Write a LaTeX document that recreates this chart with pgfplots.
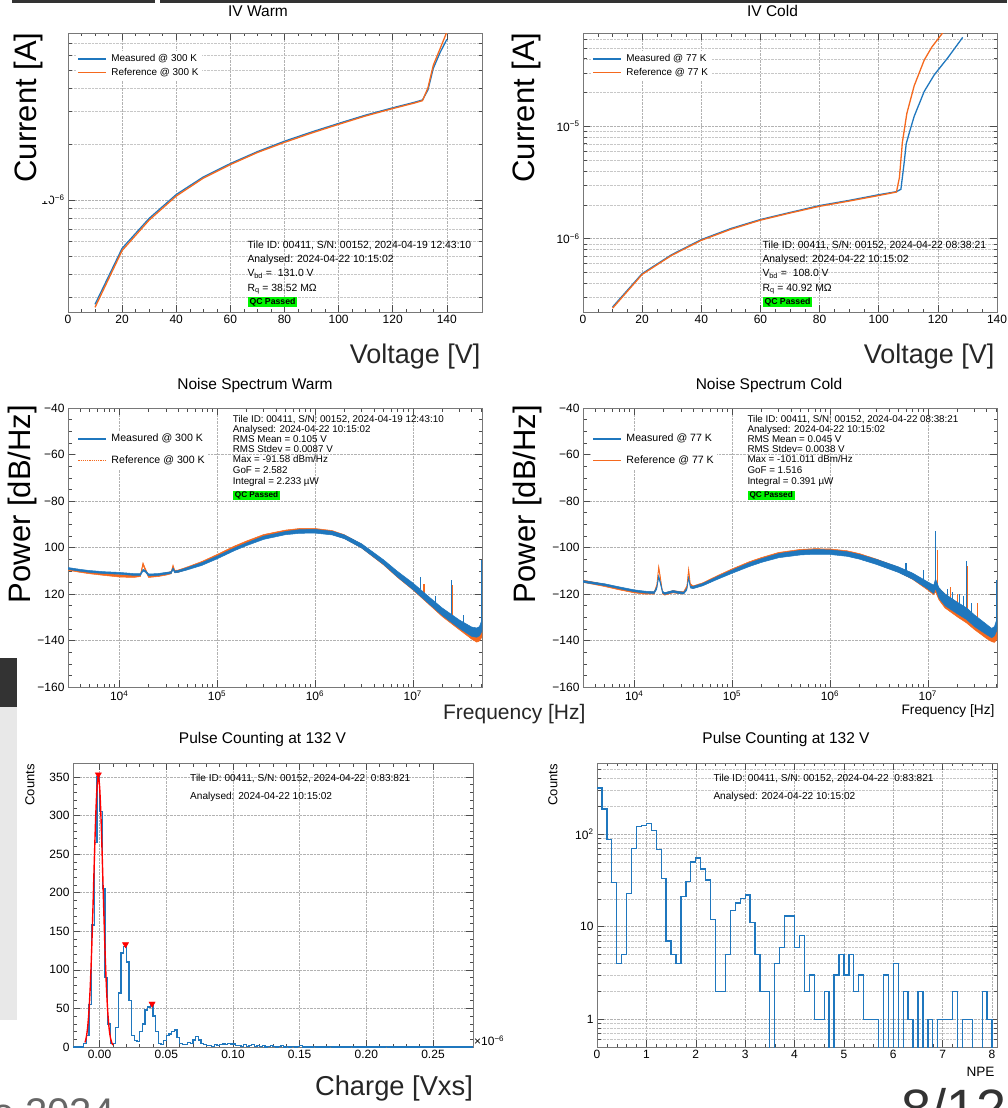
\documentclass[border=0pt]{standalone}
\usepackage{fontspec}
\setmainfont{Liberation Sans}
\usepackage{pgfplots}
\pgfplotsset{compat=1.18}
\definecolor{cblue}{RGB}{31,119,190}
\definecolor{corange}{RGB}{245,105,30}
\definecolor{qcgreen}{RGB}{0,245,0}
\definecolor{framegray}{RGB}{120,120,120}
\newcommand{\fs}[1]{\fontsize{#1}{#1}\selectfont}
\pgfplotsset{
 rootax/.style={
  scale only axis, anchor=south west,
  axis line style={draw=framegray, line width=0.9pt},
  tick style={black!70, line width=0.5pt},
  tick align=inside,
  major tick length=7pt, minor tick length=3.5pt,
  tick label style={font=\fs{12}, text=black},
  major grid style={densely dotted, black!30, line width=0.5pt},
  minor grid style={densely dotted, black!22, line width=0.45pt},
  /pgf/number format/assume math mode=true,
  legend cell align=left,
  legend image code/.code={\draw[##1] (0pt,0pt) -- (28pt,0pt);},
 },
 ivleg/.style={legend style={at={(axis description cs:0.018,0.936)}, anchor=north west,
   draw=none, fill=white, inner xsep=2pt, inner ysep=2pt, font=\fs{9.9},
   row sep=1.7pt, nodes={inner sep=1.5pt}, /tikz/every odd column/.append style={column sep=3pt}}},
 nsleg/.style={legend style={at={(axis description cs:0.018,0.919)}, anchor=north west,
   draw=none, fill=white, inner xsep=2pt, inner ysep=2pt, font=\fs{10.6},
   row sep=9.6pt, nodes={inner sep=1.5pt}, /tikz/every odd column/.append style={column sep=3pt}}},
}
\begin{document}
\begin{tikzpicture}
\useasboundingbox (0,0) rectangle (1007pt,-1108pt);
% slide decorations
\fill[black!80] (12pt,0) rectangle (155pt,-3pt);
\fill[black!80] (160pt,0) rectangle (1007pt,-3pt);
\fill[black!80] (0,-658pt) rectangle (17pt,-707pt);
\fill[black!9] (0,-707pt) rectangle (17pt,-1020pt);

% ---------------- IV Warm
\begin{axis}[rootax, ivleg, at={(68pt,-312pt)}, width=414pt, height=279pt,
  xmin=0, xmax=153, ymode=log, ymin=2.5e-7, ymax=7.9e-6,
  xtick={0,20,40,60,80,100,120,140}, minor x tick num=3,
  ytick={1e-6}, yticklabels={10\textsuperscript{−6}},
  minor ytick={3e-7,4e-7,5e-7,6e-7,7e-7,8e-7,9e-7,2e-6,3e-6,4e-6,5e-6,6e-6,7e-6},
  xmajorgrids, ymajorgrids, yminorgrids]
\addplot[cblue, line width=1.3pt] coordinates {(10,2.75e-7) (20,5.5e-7) (30,7.97e-7) (40,1.07e-6) (50,1.33e-6) (60,1.57e-6) (70,1.82e-6) (80,2.07e-6) (90,2.32e-6) (100,2.58e-6) (110,2.86e-6) (120,3.13e-6) (128,3.35e-6) (131,3.45e-6) (133,3.9e-6) (135,5.1e-6) (137.5,6.2e-6) (140,7.3e-6)};
\addplot[corange, line width=1.3pt] coordinates {(10,2.65e-7) (20,5.35e-7) (30,7.8e-7) (40,1.05e-6) (50,1.31e-6) (60,1.55e-6) (70,1.8e-6) (80,2.04e-6) (90,2.29e-6) (100,2.55e-6) (110,2.83e-6) (120,3.1e-6) (128,3.32e-6) (131,3.42e-6) (133,4.0e-6) (135,5.3e-6) (137.5,6.5e-6) (140,8.0e-6)};
\legend{Measured @ 300 K, Reference @ 300 K}
\end{axis}

% ---------------- IV Cold
\begin{axis}[rootax, ivleg, at={(583pt,-312pt)}, width=414pt, height=279pt,
  xmin=0, xmax=140, ymode=log, ymin=2.22e-7, ymax=6.78e-5,
  xtick={0,20,40,60,80,100,120,140}, minor x tick num=3,
  ytick={1e-6,1e-5}, yticklabels={10\textsuperscript{−6},10\textsuperscript{−5}},
  minor ytick={3e-7,4e-7,5e-7,6e-7,7e-7,8e-7,9e-7,2e-6,3e-6,4e-6,5e-6,6e-6,7e-6,8e-6,9e-6,2e-5,3e-5,4e-5,5e-5,6e-5},
  xmajorgrids, ymajorgrids, yminorgrids]
\addplot[cblue, line width=1.3pt] coordinates {(10,2.46e-7) (20,4.88e-7) (30,7.2e-7) (40,9.8e-7) (50,1.23e-6) (60,1.48e-6) (70,1.71e-6) (80,1.97e-6) (90,2.19e-6) (100,2.46e-6) (106,2.62e-6) (107.5,2.75e-6) (108.5,4.5e-6) (109.3,7e-6) (110.3,8.7e-6) (112,1.23e-5) (115.4,2.05e-5) (118.8,2.88e-5) (123.3,4.06e-5) (128.4,6.2e-5)};
\addplot[corange, line width=1.3pt] coordinates {(10,2.4e-7) (20,4.8e-7) (30,7.1e-7) (40,9.65e-7) (50,1.21e-6) (60,1.46e-6) (70,1.69e-6) (80,1.94e-6) (90,2.16e-6) (100,2.42e-6) (106,2.6e-6) (107,3.5e-6) (108,7.2e-6) (109.5,1.3e-5) (112,2.3e-5) (115.4,3.9e-5) (118,5.1e-5) (122,7.0e-5)};
\legend{Measured @ 77 K, Reference @ 77 K}
\end{axis}

% ---------------- Noise Warm
\begin{axis}[rootax, nsleg, at={(68pt,-687pt)}, width=414pt, height=279pt,
  xmode=log, xmin=3e3, xmax=5.1e7, ymin=-160, ymax=-40,
  xtick={1e4,1e5,1e6,1e7}, xticklabels={10\textsuperscript{4},10\textsuperscript{5},10\textsuperscript{6},10\textsuperscript{7}},
  minor xtick={4e3,5e3,6e3,7e3,8e3,9e3,2e4,3e4,4e4,5e4,6e4,7e4,8e4,9e4,2e5,3e5,4e5,5e5,6e5,7e5,8e5,9e5,2e6,3e6,4e6,5e6,6e6,7e6,8e6,9e6,2e7,3e7,4e7,5e7},
  ytick={-160,-140,-120,-100,-80,-60,-40}, yticklabels={−160,−140,120,100,−80,−60,−40},
  minor y tick num=3, xmajorgrids, ymajorgrids, unbounded coords=jump]
\addlegendimage{cblue, line width=1.3pt}
\addlegendimage{corange, line width=1.2pt, densely dotted}
\addplot[draw=corange, fill=corange, line width=0.5pt, forget plot] coordinates {
(3e3,-108.8) (4e3,-109.7) (5e3,-110.3) (7e3,-111.0) (1e4,-111.7) (1.4e4,-111.9) (1.65e4,-111.5) (1.75e4,-106.5) (1.85e4,-109.0) (2e4,-111.9) (2.5e4,-111.5) (3e4,-110.9) (3.4e4,-110.3) (3.55e4,-107.5) (3.7e4,-109.8) (4e4,-109.7) (5e4,-108.3) (7e4,-106.0) (1e5,-103.0) (1.5e5,-99.4) (2e5,-97.2) (3e5,-94.4) (5e5,-92.5) (7e5,-91.8) (1e6,-91.8) (1.5e6,-92.7) (2e6,-94.5) (3e6,-98.6) (5e6,-105.8) (7e6,-111.1) (1e7,-116.2) (1.5e7,-122.7) (2e7,-127.3) (3e7,-133.0) (4e7,-137.0) (4.5e7,-138.3) (4.8e7,-137.8) (5.1e7,-135.5)
(5.1e7,-138.5) (4.8e7,-140.2) (4.5e7,-140.7) (4e7,-139.4) (3e7,-135.4) (2e7,-129.7) (1.5e7,-124.9) (1e7,-118.2) (7e6,-112.9) (5e6,-107.4) (3e6,-100.2) (2e6,-96.1) (1.5e6,-94.3) (1e6,-93.4) (7e5,-93.4) (5e5,-94.1) (3e5,-96.0) (2e5,-98.8) (1.5e5,-101.0) (1e5,-104.4) (7e4,-107.2) (5e4,-109.3) (4e4,-110.7) (3.7e4,-110.8) (3.55e4,-108.5) (3.4e4,-111.3) (3e4,-111.9) (2.5e4,-112.5) (2e4,-112.9) (1.85e4,-110.0) (1.75e4,-107.5) (1.65e4,-112.5) (1.4e4,-112.9) (1e4,-112.7) (7e3,-112.0) (5e3,-111.3) (4e3,-110.7) (3e3,-109.8)};
\addplot[corange, line width=1.2pt, forget plot] coordinates {(1.3e7,-120) (1.3e7,-115.5) (1.3e7,nan) (2.55e7,-131) (2.55e7,-116)};
\addplot[draw=cblue, fill=cblue, line width=0.5pt, forget plot] coordinates {
(3e3,-108.6) (4e3,-109.4) (5e3,-109.9) (7e3,-110.4) (1e4,-110.7) (1.4e4,-111.2) (1.65e4,-111.2) (1.75e4,-109.4) (1.85e4,-109.8) (2e4,-111.4) (2.5e4,-111.2) (3e4,-110.7) (3.4e4,-110.4) (3.55e4,-108.8) (3.7e4,-110.1) (4e4,-109.9) (5e4,-108.6) (7e4,-106.5) (1e5,-103.7) (1.5e5,-100.2) (2e5,-98.0) (3e5,-95.1) (5e5,-93.1) (7e5,-92.3) (1e6,-92.2) (1.5e6,-93.0) (2e6,-94.6) (3e6,-98.4) (5e6,-105.2) (7e6,-110.3) (1e7,-115.2) (1.5e7,-121.6) (2e7,-126.0) (3e7,-131.2) (4e7,-134.2) (4.5e7,-134.6) (4.8e7,-134.0) (5.1e7,-131.0)
(5.1e7,-136.0) (4.8e7,-138.0) (4.5e7,-138.6) (4e7,-138.2) (3e7,-134.8) (2e7,-129.2) (1.5e7,-124.6) (1e7,-118.0) (7e6,-112.7) (5e6,-107.2) (3e6,-100.2) (2e6,-96.2) (1.5e6,-94.6) (1e6,-93.8) (7e5,-93.9) (5e5,-94.5) (3e5,-96.5) (2e5,-99.2) (1.5e5,-101.4) (1e5,-104.9) (7e4,-107.7) (5e4,-109.6) (4e4,-110.7) (3.7e4,-110.9) (3.55e4,-109.6) (3.4e4,-111.2) (3e4,-111.5) (2.5e4,-112.0) (2e4,-112.2) (1.85e4,-110.6) (1.75e4,-110.2) (1.65e4,-112.0) (1.4e4,-112.0) (1e4,-111.5) (7e3,-111.2) (5e3,-110.7) (4e3,-110.2) (3e3,-109.4)};
\addplot[cblue, line width=1.2pt, forget plot] coordinates {(1.2e7,-118) (1.2e7,-112.6) (1.2e7,nan) (2.5e7,-130) (2.5e7,-113.8) (2.5e7,nan) (5.08e7,-134) (5.08e7,-105.5) (5.08e7,nan) (1.7e7,-124.5) (1.7e7,-121) (1.7e7,nan) (3.3e7,-134) (3.3e7,-129)};
\legend{Measured @ 300 K, Reference @ 300 K}
\end{axis}

% ---------------- Noise Cold
\begin{axis}[rootax, nsleg, at={(583pt,-687pt)}, width=414pt, height=279pt,
  xmode=log, xmin=3e3, xmax=5.1e7, ymin=-160, ymax=-40,
  xtick={1e4,1e5,1e6,1e7}, xticklabels={10\textsuperscript{4},10\textsuperscript{5},10\textsuperscript{6},10\textsuperscript{7}},
  minor xtick={4e3,5e3,6e3,7e3,8e3,9e3,2e4,3e4,4e4,5e4,6e4,7e4,8e4,9e4,2e5,3e5,4e5,5e5,6e5,7e5,8e5,9e5,2e6,3e6,4e6,5e6,6e6,7e6,8e6,9e6,2e7,3e7,4e7,5e7},
  ytick={-160,-140,-120,-100,-80,-60,-40}, yticklabels={−160,−140,−120,−100,−80,−60,−40},
  minor y tick num=3, xmajorgrids, ymajorgrids, unbounded coords=jump]
\addlegendimage{cblue, line width=1.3pt}
\addlegendimage{corange, line width=1.3pt}
\addplot[draw=corange, fill=corange, line width=0.5pt, forget plot] coordinates {
(3e3,-114.0) (4e3,-115.0) (5e3,-115.8) (7e3,-117.2) (1e4,-118.5) (1.3e4,-119.1) (1.6e4,-119.1) (1.7e4,-116.0) (1.78e4,-107.8) (1.86e4,-113.0) (1.95e4,-119.0) (2.05e4,-119.5) (2.5e4,-118.5) (2.8e4,-118.8) (3.2e4,-119.0) (3.45e4,-116.5) (3.6e4,-108.8) (3.75e4,-115.5) (4e4,-116.5) (5e4,-115.2) (7e4,-112.2) (1e5,-109.2) (1.5e5,-106.1) (2e5,-104.3) (3e5,-102.1) (5e5,-100.8) (7e5,-100.5) (1e6,-100.6) (1.5e6,-101.4) (2e6,-102.6) (3e6,-105.0) (5e6,-108.5) (7e6,-111.3) (1e7,-115.3) (1.15e7,-116.7) (1.2e7,-115.0) (1.3e7,-117.5) (1.5e7,-120.0) (2e7,-123.8) (2.5e7,-126.5) (3e7,-129.7) (4e7,-134.8) (4.5e7,-137.5) (4.8e7,-137.8) (5.1e7,-135.5)
(5.1e7,-139.5) (4.8e7,-140.8) (4.5e7,-140.5) (4e7,-139.2) (3e7,-135.3) (2.5e7,-132.5) (2e7,-129.8) (1.5e7,-126.0) (1.3e7,-122.5) (1.2e7,-119.0) (1.15e7,-120.3) (1e7,-118.3) (7e6,-113.7) (5e6,-110.5) (3e6,-107.0) (2e6,-104.6) (1.5e6,-103.4) (1e6,-102.6) (7e5,-102.5) (5e5,-102.8) (3e5,-103.9) (2e5,-105.9) (1.5e5,-107.7) (1e5,-110.6) (7e4,-113.4) (5e4,-116.2) (4e4,-117.5) (3.75e4,-116.5) (3.6e4,-110.2) (3.45e4,-117.5) (3.2e4,-120.0) (2.8e4,-119.8) (2.5e4,-119.5) (2.05e4,-120.5) (1.95e4,-120.0) (1.86e4,-114.0) (1.78e4,-109.2) (1.7e4,-117.0) (1.6e4,-120.1) (1.3e4,-120.1) (1e4,-119.5) (7e3,-118.2) (5e3,-116.8) (4e3,-116.0) (3e3,-115.0)};
\addplot[corange, line width=1.3pt, forget plot] coordinates {(1.25e7,-118) (1.25e7,-100.9) (1.25e7,nan) (2.55e7,-129) (2.55e7,-108) (2.55e7,nan) (1.7e7,-124) (1.7e7,-117) (1.7e7,nan) (2.0e7,-127) (2.0e7,-120) (2.0e7,nan) (3.2e7,-132) (3.2e7,-124)};
\addplot[draw=cblue, fill=cblue, line width=0.5pt, forget plot] coordinates {
(3e3,-114.2) (4e3,-115.0) (5e3,-115.6) (7e3,-116.9) (1e4,-118.2) (1.3e4,-118.8) (1.6e4,-119.0) (1.7e4,-117.0) (1.78e4,-112.0) (1.86e4,-115.0) (1.95e4,-118.8) (2.05e4,-119.4) (2.5e4,-118.5) (2.8e4,-118.9) (3.2e4,-119.2) (3.45e4,-117.6) (3.6e4,-112.6) (3.75e4,-116.6) (4e4,-116.7) (5e4,-115.5) (7e4,-112.6) (1e5,-109.7) (1.5e5,-106.6) (2e5,-104.8) (3e5,-102.6) (5e5,-101.2) (7e5,-100.9) (1e6,-101.0) (1.5e6,-101.8) (2e6,-103.0) (3e6,-105.1) (5e6,-108.3) (7e6,-111.0) (1e7,-114.8) (1.15e7,-116.2) (1.2e7,-113.5) (1.3e7,-117.3) (1.5e7,-120.0) (2e7,-123.5) (2.5e7,-126.0) (3e7,-129.0) (4e7,-133.1) (4.5e7,-134.8) (4.8e7,-134.0) (5.1e7,-130.5)
(5.1e7,-135.5) (4.8e7,-138.0) (4.5e7,-138.8) (4e7,-137.5) (3e7,-134.0) (2.5e7,-131.0) (2e7,-128.5) (1.5e7,-125.0) (1.3e7,-121.7) (1.2e7,-117.5) (1.15e7,-119.8) (1e7,-117.8) (7e6,-113.6) (5e6,-110.7) (3e6,-107.3) (2e6,-105.0) (1.5e6,-103.8) (1e6,-103.0) (7e5,-102.9) (5e5,-103.2) (3e5,-104.4) (2e5,-106.4) (1.5e5,-108.2) (1e5,-111.1) (7e4,-113.8) (5e4,-116.5) (4e4,-117.7) (3.75e4,-117.4) (3.6e4,-113.4) (3.45e4,-118.4) (3.2e4,-120.0) (2.8e4,-119.7) (2.5e4,-119.3) (2.05e4,-120.2) (1.95e4,-119.6) (1.86e4,-116.0) (1.78e4,-113.0) (1.7e4,-118.0) (1.6e4,-119.8) (1.3e4,-119.6) (1e4,-119.0) (7e3,-117.7) (5e3,-116.4) (4e3,-115.8) (3e3,-115.0)};
\addplot[cblue, line width=1.2pt, forget plot] coordinates {(1.21e7,-116) (1.21e7,-92.9) (1.21e7,nan) (6e6,-111) (6e6,-106.6) (6e6,nan) (9e6,-115) (9e6,-109.5) (9e6,nan) (2.5e7,-128) (2.5e7,-105.9) (2.5e7,nan) (5.08e7,-134) (5.08e7,-113.8) (5.08e7,nan) (1.6e7,-124) (1.6e7,-118) (1.6e7,nan) (1.8e7,-125) (1.8e7,-119) (1.8e7,nan) (2.1e7,-127) (2.1e7,-120) (2.1e7,nan) (2.3e7,-128) (2.3e7,-121) (2.3e7,nan) (2.8e7,-130) (2.8e7,-124)};
\legend{Measured @ 77 K, Reference @ 77 K}
\end{axis}

% ---------------- Pulse counting (charge)
\begin{axis}[rootax, at={(73pt,-1047pt)}, width=400pt, height=284pt,
  xmin=-0.02, xmax=0.28, ymin=0, ymax=368,
  xtick={0,0.05,0.1,0.15,0.2,0.25}, xticklabels={0.00,0.05,0.10,0.15,0.20,0.25},
  minor x tick num=4, ytick={0,50,100,150,200,250,300,350}, minor y tick num=4,
  xmajorgrids, ymajorgrids]
\addplot[cblue, line width=1.3pt, const plot mark left] coordinates {
(-0.020,0) (-0.012,5) (-0.010,15) (-0.008,55) (-0.006,158) (-0.004,265) (-0.002,350) (0.000,305) (0.002,205) (0.004,90) (0.006,30) (0.008,5) (0.010,5) (0.012,25) (0.014,70) (0.016,122) (0.018,130) (0.020,110) (0.022,60) (0.024,15) (0.026,8) (0.028,7) (0.030,20) (0.032,30) (0.034,48) (0.036,52) (0.038,55) (0.040,40) (0.042,20) (0.044,5) (0.046,3) (0.048,8) (0.050,15) (0.052,17) (0.054,20) (0.056,22) (0.058,12) (0.060,5) (0.062,3) (0.064,3) (0.066,6) (0.068,5) (0.070,9) (0.072,14) (0.074,9) (0.076,5) (0.078,3) (0.080,2) (0.082,2) (0.084,1) (0.086,3) (0.088,2) (0.090,3) (0.092,4) (0.094,3) (0.096,5) (0.098,4) (0.100,4) (0.102,2) (0.104,2) (0.106,1) (0.108,3) (0.110,1) (0.112,2) (0.114,3) (0.116,1) (0.118,2) (0.120,1) (0.122,2) (0.124,0) (0.126,1) (0.128,2) (0.130,1) (0.132,0) (0.134,1) (0.136,2) (0.138,0) (0.140,1) (0.142,0) (0.144,1) (0.146,0) (0.148,1) (0.150,2) (0.152,0) (0.160,1) (0.162,0) (0.172,1) (0.174,0) (0.188,1) (0.190,0) (0.214,1) (0.216,0) (0.280,0)};
\addplot[red, line width=1.4pt, smooth] coordinates {(-0.011,5.9) (-0.010,12.8) (-0.009,25.7) (-0.008,47.4) (-0.007,80.6) (-0.006,126) (-0.005,182) (-0.004,242) (-0.003,297) (-0.002,336) (-0.001,350) (0.000,336) (0.001,297) (0.002,242) (0.003,182) (0.004,126) (0.005,80.6) (0.006,47.4) (0.007,25.7) (0.008,12.8) (0.009,5.9) (0.010,2.5)};
\addplot[only marks, mark=triangle*, mark size=3.6pt, mark options={rotate=180, fill=red, draw=red}] coordinates {(-0.001,353) (0.0194,133) (0.0393,56)};
\end{axis}

% ---------------- Pulse counting (NPE)
\begin{axis}[rootax, at={(597pt,-1047pt)}, width=400pt, height=284pt,
  xmin=0, xmax=8.1, ymode=log, ymin=0.5, ymax=587,
  xtick={0,1,2,3,4,5,6,7,8}, minor x tick num=4,
  ytick={1,10,100}, yticklabels={1,10,10\textsuperscript{2}},
  minor ytick={0.6,0.7,0.8,0.9,2,3,4,5,6,7,8,9,20,30,40,50,60,70,80,90,200,300,400,500},
  xmajorgrids, ymajorgrids, yminorgrids]
\addplot[cblue, line width=1.3pt, const plot mark left] coordinates {
(0.0,315) (0.1,187) (0.2,88) (0.3,30) (0.4,4) (0.5,5) (0.6,23) (0.7,70) (0.8,120) (0.9,125)
(1.0,130) (1.1,110) (1.2,68) (1.3,33) (1.4,7) (1.5,5) (1.6,4) (1.7,21) (1.8,31) (1.9,50)
(2.0,55) (2.1,42) (2.2,32) (2.3,12) (2.4,2) (2.5,2) (2.6,5) (2.7,15) (2.8,18) (2.9,20)
(3.0,22) (3.1,11) (3.2,5) (3.3,2) (3.4,2) (3.5,0.1) (3.6,4) (3.7,6) (3.8,13) (3.9,13)
(4.0,6) (4.1,8) (4.2,2) (4.3,3) (4.4,1) (4.5,1) (4.6,2) (4.7,0.1) (4.8,3) (4.9,5)
(5.0,3) (5.1,5) (5.2,2) (5.3,3) (5.4,1) (5.5,1) (5.6,1) (5.7,0.1) (5.8,3) (5.9,0.1)
(6.0,4) (6.1,0.1) (6.2,2) (6.3,1) (6.4,0.1) (6.5,2) (6.6,0.1) (6.7,1) (6.8,0.1) (6.9,1)
(7.0,1) (7.1,1) (7.2,2) (7.3,0.1) (7.4,1) (7.5,1) (7.6,0.1) (7.7,0.1) (7.8,2) (7.9,1)
(8.0,0.1) (8.1,0.1)};
\end{axis}

% ---------------- titles
\node[font=\fs{15.5}] at (258pt,-11pt) {IV Warm};
\node[font=\fs{15.5}] at (772.5pt,-11pt) {IV Cold};
\node[font=\fs{15.5}] at (255pt,-385pt) {Noise Spectrum Warm};
\node[font=\fs{15.5}] at (769pt,-385pt) {Noise Spectrum Cold};
\node[font=\fs{15.5}] at (262.5pt,-739pt) {Pulse Counting at 132 V};
\node[font=\fs{15.5}] at (786pt,-739pt) {Pulse Counting at 132 V};

% ---------------- axis labels
\node[font=\fs{31}, rotate=90, fill=white, inner xsep=19pt, inner ysep=8pt] at (28pt,-107.5pt) {Current [A]};
\node[font=\fs{31}, rotate=90] at (526pt,-107.5pt) {Current [A]};
\node[font=\fs{27}, anchor=base east, text=black!85] at (484pt,-363pt) {Voltage [V]};
\node[font=\fs{27}, anchor=base east, text=black!85] at (998pt,-363pt) {Voltage [V]};
\node[font=\fs{31}, rotate=90] at (22pt,-504pt) {Power [dB/Hz]};
\node[font=\fs{31}, rotate=90] at (527pt,-504pt) {Power [dB/Hz]};
\node[font=\fs{21}, anchor=east, text=black!85] at (589pt,-714pt) {Frequency [Hz]};
\node[font=\fs{13.7}, anchor=east] at (998pt,-711pt) {Frequency [Hz]};
\node[font=\fs{27.3}, text=black!85] at (394pt,-1088pt) {Charge [Vxs]};
\node[font=\fs{13}, rotate=90] at (30pt,-785pt) {Counts};
\node[font=\fs{13}, rotate=90] at (553pt,-785pt) {Counts};
\node[font=\fs{13.6}, anchor=east] at (998pt,-1072pt) {NPE};
\node[font=\fs{12}, anchor=west, inner sep=0pt] at (474pt,-1041pt) {×10\textsuperscript{−6}};

% ---------------- IV info boxes
\begin{scope}[every node/.style={anchor=base west, inner sep=0pt, font=\fs{10.4}}]
\node at (247.3pt,-248.3pt) {Tile ID: 00411, S/N: 00152, 2024-04-19 12:43:10};
\node at (247.3pt,-262.5pt) {Analysed: 2024-04-22 10:15:02};
\node at (247.3pt,-276.8pt) {V\textsubscript{bd} =\ \ 131.0 V};
\node at (247.3pt,-291pt) {R\textsubscript{q} = 38.52 MΩ};
\node at (762.3pt,-248.3pt) {Tile ID: 00411, S/N: 00152, 2024-04-22 08:38:21};
\node at (762.3pt,-262.5pt) {Analysed: 2024-04-22 10:15:02};
\node at (762.3pt,-276.8pt) {V\textsubscript{bd} =\ \ 108.0 V};
\node at (762.3pt,-291pt) {R\textsubscript{q} = 40.92 MΩ};
\end{scope}
\node[anchor=west, fill=qcgreen, font=\bfseries\fs{8.7}, inner xsep=2pt, inner ysep=0pt, minimum height=10.6pt] at (247.3pt,-302pt) {QC Passed};
\node[anchor=west, fill=qcgreen, font=\bfseries\fs{8.7}, inner xsep=2pt, inner ysep=0pt, minimum height=10.6pt] at (762.3pt,-302pt) {QC Passed};

% ---------------- Noise info boxes
\begin{scope}[every node/.style={anchor=base west, inner sep=0pt, font=\fs{9.8}}]
\node at (232.7pt,-422.3pt) {Tile ID: 00411, S/N: 00152, 2024-04-19 12:43:10};
\node at (232.7pt,-432.7pt) {Analysed: 2024-04-22 10:15:02};
\node at (232.7pt,-442.7pt) {RMS Mean = 0.105 V};
\node at (232.7pt,-452.7pt) {RMS Stdev = 0.0087 V};
\node at (232.7pt,-462.9pt) {Max = -91.58 dBm/Hz};
\node at (232.7pt,-473.3pt) {GoF = 2.582};
\node at (232.7pt,-484pt) {Integral = 2.233 µW};
\node at (747.3pt,-422.3pt) {Tile ID: 00411, S/N: 00152, 2024-04-22 08:38:21};
\node at (747.3pt,-432.7pt) {Analysed: 2024-04-22 10:15:02};
\node at (747.3pt,-442.7pt) {RMS Mean = 0.045 V};
\node at (747.3pt,-452.7pt) {RMS Stdev= 0.0038 V};
\node at (747.3pt,-462.9pt) {Max = -101.011 dBm/Hz};
\node at (747.3pt,-473.3pt) {GoF = 1.516};
\node at (747.3pt,-484pt) {Integral = 0.391 µW};
\end{scope}
\node[anchor=west, fill=qcgreen, font=\bfseries\fs{8.2}, inner xsep=2pt, inner ysep=0pt, minimum height=9.5pt] at (232.7pt,-495.5pt) {QC Passed};
\node[anchor=west, fill=qcgreen, font=\bfseries\fs{8.2}, inner xsep=2pt, inner ysep=0pt, minimum height=9.5pt] at (747.3pt,-495.5pt) {QC Passed};

% ---------------- Pulse info
\begin{scope}[every node/.style={anchor=base west, inner sep=0pt, font=\fs{10.1}}]
\node at (190pt,-781pt) {Tile ID: 00411, S/N: 00152, 2024-04-22\ \ 0:83:821};
\node at (190pt,-799.3pt) {Analysed: 2024-04-22 10:15:02};
\node at (713.3pt,-781pt) {Tile ID: 00411, S/N: 00152, 2024-04-22\ \ 0:83:821};
\node at (713.3pt,-799.3pt) {Analysed: 2024-04-22 10:15:02};
\end{scope}

% ---------------- slide footer fragments (cut by the page edge, as in the reference)
\node[font=\fs{40}, anchor=base west, text=black!60, inner sep=0pt] at (-8pt,-1126pt) {e 2024};
\node[font=\fs{54}, anchor=base west, text=black!80, inner sep=0pt] at (901pt,-1127pt) {8/12};
\end{tikzpicture}
\end{document}
